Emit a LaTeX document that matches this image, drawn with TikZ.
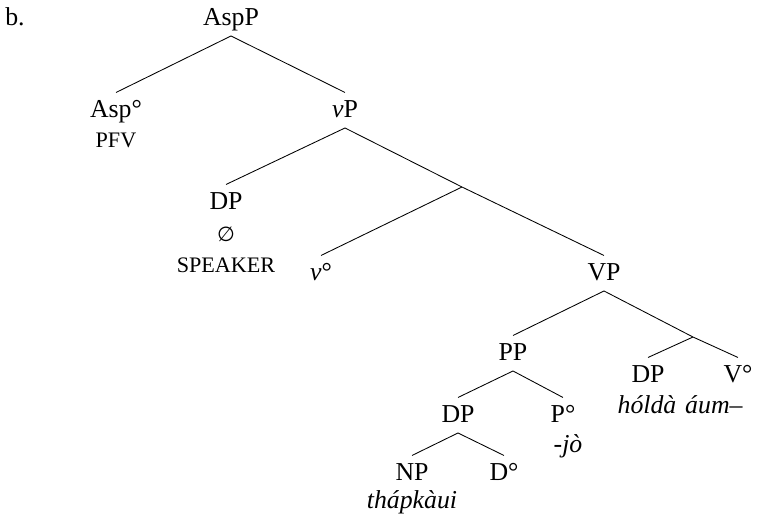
\documentclass[12pt,tikz,border=0pt]{standalone}
\usepackage{fontspec}
\setmainfont{Liberation Serif}
\newfontfamily\emptysetfont{DejaVu Sans}

\begin{document}
\begin{tikzpicture}[x=0.465pt,y=-0.465pt,
    cat/.style={anchor=base, inner xsep=0pt, inner ysep=2pt, text height=9.2pt, text depth=2.9pt},
    gloss/.style={anchor=base, inner sep=0pt}]
                \newcommand{\smc}[1]{{\fontsize{10.3}{12}\selectfont #1}}
                \useasboundingbox (0,0) rectangle (766,518);

                % Example number
                \node[gloss] (exno) at (15,25) {b.};

                % Draw category labels
                \node[cat] (aspp) at (231,25) {AspP};
                \node[cat] (asp) at (116,117) {Asp°};
                \node[cat] (vp) at (345,117) {\textit{v}P};
                \node[cat] (dpspk) at (226,209) {DP};
                \coordinate (vbar) at (462,187);
                \node[cat] (vhead) at (321,280) {\textit{v}°};
                \node[cat] (bigvp) at (604,280) {VP};
                \node[cat] (pp) at (513,360) {PP};
                \coordinate (bigvbar) at (693,337);
                \node[cat] (dpobj) at (648,382) {DP};
                \node[cat] (bigvhead) at (738,382) {V°};
                \node[cat] (dpin) at (458,422) {DP};
                \node[cat] (phead) at (563,422) {P°};
                \node[cat] (np) at (412,480) {NP};
                \node[cat] (dhead) at (504,480) {D°};

                % Draw glosses and forms
                \node[gloss] (pfv) at (116,147) {\smc{PFV}};
                \node[gloss] (null) at (226,241) {{\emptysetfont\fontsize{9.5}{12}\selectfont ∅}};
                \node[gloss] (speaker) at (226,272) {\smc{SPEAKER}};
                \node[gloss] (holda) at (647,413) {\textit{hóldà}};
                \node[gloss] (aum) at (714,413) {\textit{áum–}};
                \node[gloss] (jo) at (568,452) {\textit{-jò}};
                \node[gloss] (thap) at (412,508) {\textit{thápkàui}};

                % Draw branches
                \draw (aspp.south) -- (asp.north);
                \draw (aspp.south) -- (vp.north);
                \draw (vp.south) -- (dpspk.north);
                \draw (vp.south) -- (vbar) -- (bigvp.north);
                \draw (vbar) -- (vhead.north);
                \draw (bigvp.south) -- (pp.north);
                \draw (bigvp.south) -- (bigvbar) -- (bigvhead.north);
                \draw (bigvbar) -- (dpobj.north);
                \draw (pp.south) -- (dpin.north);
                \draw (pp.south) -- (phead.north);
                \draw (dpin.south) -- (np.north);
                \draw (dpin.south) -- (dhead.north);
            \end{tikzpicture}
\end{document}
